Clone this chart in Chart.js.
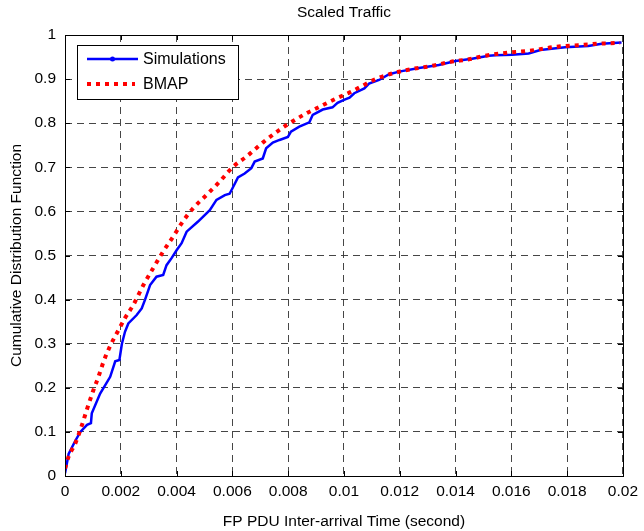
<!DOCTYPE html>
<html>
<head>
<meta charset="utf-8">
<script src="https://cdn.jsdelivr.net/npm/chart.js@4/dist/chart.umd.min.js"></script>
<style>
    body { margin: 0; background: #fff; }
    canvas { display: block; }
</style>
</head>
<body>
<canvas id="cdfChart" width="644" height="531"></canvas>
<script>
// Simulations (empirical CDF)
const simX = [0, 0.00013, 0.00037, 0.00055, 0.00079, 0.00093, 0.00096, 0.00126, 0.00162, 0.0018,
    0.00195, 0.00204, 0.00215, 0.00227, 0.00257, 0.00275, 0.00287, 0.00305, 0.00328, 0.00352,
    0.00364, 0.00382, 0.004, 0.00418, 0.00436, 0.00477, 0.00519, 0.00543, 0.00573, 0.0059,
    0.006, 0.0062, 0.00644, 0.00668, 0.0068, 0.00709, 0.00721, 0.00745, 0.00769, 0.00799,
    0.0081, 0.0084, 0.00876, 0.00888, 0.00924, 0.00959, 0.00977, 0.01, 0.0102, 0.01037,
    0.01073, 0.0109, 0.01126, 0.01162, 0.01198, 0.01269, 0.0134, 0.014, 0.01459, 0.01519,
    0.01543, 0.01602, 0.01662, 0.01704, 0.01793, 0.01876, 0.01924, 0.01995];
const simY = [0.006, 0.05, 0.08, 0.1, 0.116, 0.12, 0.142, 0.187, 0.225, 0.26,
    0.263, 0.3, 0.327, 0.346, 0.365, 0.38, 0.4, 0.433, 0.452, 0.456,
    0.478, 0.494, 0.512, 0.528, 0.554, 0.577, 0.603, 0.626, 0.637, 0.64,
    0.652, 0.677, 0.686, 0.698, 0.713, 0.72, 0.743, 0.756, 0.762, 0.769,
    0.781, 0.792, 0.802, 0.819, 0.831, 0.836, 0.846, 0.853, 0.858, 0.868,
    0.879, 0.89, 0.898, 0.911, 0.917, 0.925, 0.932, 0.941, 0.946, 0.953,
    0.954, 0.955, 0.958, 0.966, 0.972, 0.975, 0.98, 0.983];

// BMAP model
const bmapX = [0, 0.00013, 0.00037, 0.00061, 0.00078, 0.00102, 0.0012, 0.00138, 0.00162, 0.00191,
    0.00215, 0.00245, 0.00281, 0.00316, 0.00352, 0.00388, 0.00418, 0.00459, 0.00507, 0.00555,
    0.00602, 0.0065, 0.00709, 0.00769, 0.00805, 0.00864, 0.00912, 0.00972, 0.01025, 0.01055,
    0.01114, 0.01174, 0.01245, 0.01316, 0.01382, 0.01448, 0.01507, 0.0159, 0.01662, 0.01757,
    0.0184, 0.01935, 0.0199];
const bmapY = [0.017, 0.044, 0.074, 0.116, 0.15, 0.195, 0.225, 0.259, 0.295, 0.33,
    0.358, 0.388, 0.433, 0.471, 0.509, 0.543, 0.573, 0.607, 0.637, 0.668,
    0.701, 0.724, 0.756, 0.785, 0.8, 0.822, 0.837, 0.856, 0.871, 0.881,
    0.9, 0.913, 0.923, 0.93, 0.939, 0.945, 0.953, 0.96, 0.964, 0.973,
    0.977, 0.981, 0.982];

const xTicks = [0, 0.002, 0.004, 0.006, 0.008, 0.01, 0.012, 0.014, 0.016, 0.018, 0.02];
const xTickLabels = ["0", "0.002", "0.004", "0.006", "0.008", "0.01", "0.012", "0.014", "0.016", "0.018", "0.02"];
const yTicks = [0, 0.1, 0.2, 0.3, 0.4, 0.5, 0.6, 0.7, 0.8, 0.9, 1];
const yTickLabels = ["0", "0.1", "0.2", "0.3", "0.4", "0.5", "0.6", "0.7", "0.8", "0.9", "1"];

const FONT = "'Liberation Sans', Arial, sans-serif";

// 제목, 상자 테두리, 안쪽 눈금, 범례
const matlabFrame = {
    id: "matlabFrame",
    afterDraw(chart) {
        const ctx = chart.ctx;
        const area = chart.chartArea;
        const xs = chart.scales.x, ys = chart.scales.y;
        ctx.save();

        // box
        ctx.strokeStyle = "#000";
        ctx.lineWidth = 1;
        ctx.setLineDash([]);
        ctx.strokeRect(Math.round(area.left) + 0.5, Math.round(area.top) + 0.5,
            Math.round(area.right - area.left), Math.round(area.bottom - area.top));

        // inward ticks
        const tl = 5;
        ctx.beginPath();
        xTicks.forEach(v => {
            const px = Math.round(xs.getPixelForValue(v)) + 0.5;
            ctx.moveTo(px, area.bottom); ctx.lineTo(px, area.bottom - tl);
            ctx.moveTo(px, area.top); ctx.lineTo(px, area.top + tl);
        });
        yTicks.forEach(v => {
            const py = Math.round(ys.getPixelForValue(v)) + 0.5;
            ctx.moveTo(area.left, py); ctx.lineTo(area.left + tl, py);
            ctx.moveTo(area.right, py); ctx.lineTo(area.right - tl, py);
        });
        ctx.stroke();

        // title
        ctx.fillStyle = "#000";
        ctx.font = "15.5px " + FONT;
        ctx.textAlign = "center";
        ctx.textBaseline = "middle";
        ctx.fillText("Scaled Traffic", (area.left + area.right) / 2, 13);

        // legend
        const lx = 77.5, ly = 45.5, lw = 161, lh = 54;
        ctx.fillStyle = "#fff";
        ctx.fillRect(lx, ly, lw, lh);
        ctx.strokeStyle = "#000";
        ctx.lineWidth = 1;
        ctx.strokeRect(lx, ly, lw, lh);

        const ds = chart.data.datasets;
        const rows = [59, 84];
        ds.forEach((d, i) => {
            const y = rows[i];
            ctx.save();
            ctx.strokeStyle = d.borderColor;
            ctx.lineWidth = d.borderWidth;
            ctx.setLineDash(d.borderDash || []);
            ctx.beginPath();
            ctx.moveTo(87, y);
            ctx.lineTo(i === 0 ? 138 : 135, y);
            ctx.stroke();
            if (i === 0) {
                ctx.fillStyle = d.borderColor;
                ctx.beginPath();
                ctx.arc(112.5, y, 2.5, 0, Math.PI * 2);
                ctx.fill();
            }
            ctx.restore();
            ctx.fillStyle = "#000";
            ctx.font = "16px " + FONT;
            ctx.textAlign = "left";
            ctx.textBaseline = "middle";
            ctx.fillText(d.label, 143, y + 1);
        });
        ctx.restore();
    }
};

const gridOpts = {
    color: "rgba(50, 50, 50, 0.9)",
    lineWidth: 1,
    drawTicks: false
};

new Chart(document.getElementById("cdfChart"), {
    type: "line",
    data: {
        datasets: [
            {
                label: "Simulations",
                data: simX.map((x, i) => ({ x: x, y: simY[i] })),
                borderColor: "#0000ff",
                borderWidth: 2.5,
                pointRadius: 0,
                fill: false,
                tension: 0,
                order: 1
            },
            {
                label: "BMAP",
                data: bmapX.map((x, i) => ({ x: x, y: bmapY[i] })),
                borderColor: "#ff0000",
                borderWidth: 4,
                borderDash: [4, 5],
                borderCapStyle: "butt",
                pointRadius: 0,
                fill: false,
                cubicInterpolationMode: "monotone",
                order: 0
            }
        ]
    },
    plugins: [matlabFrame],
    options: {
        responsive: false,
        animation: false,
        layout: { padding: { left: 0, right: 18, top: 35, bottom: 0 } },
        plugins: {
            legend: { display: false },
            title: { display: false },
            tooltip: { enabled: false }
        },
        scales: {
            x: {
                type: "linear",
                min: 0,
                max: 0.02,
                afterBuildTicks: scale => { scale.ticks = xTicks.map(v => ({ value: v })); },
                afterFit: scale => { scale.height = 55; },
                grid: gridOpts,
                border: { display: false, dash: [7, 5] },
                ticks: {
                    autoSkip: false,
                    maxRotation: 0,
                    padding: 6,
                    color: "#000",
                    font: { family: FONT, size: 15.5 },
                    callback: (v, i) => xTickLabels[i]
                },
                title: {
                    display: true,
                    text: "FP PDU Inter-arrival Time (second)",
                    color: "#000",
                    font: { family: FONT, size: 15.5 },
                    padding: { top: 0, bottom: 0 }
                }
            },
            y: {
                type: "linear",
                min: 0,
                max: 1,
                afterBuildTicks: scale => { scale.ticks = yTicks.map(v => ({ value: v })); },
                afterFit: scale => { scale.width = 65; },
                grid: gridOpts,
                border: { display: false, dash: [7, 5] },
                ticks: {
                    autoSkip: false,
                    padding: 9,
                    color: "#000",
                    font: { family: FONT, size: 15.5 },
                    callback: (v, i) => yTickLabels[i]
                },
                title: {
                    display: true,
                    text: "Cumulative Distribution Function",
                    color: "#000",
                    font: { family: FONT, size: 15.5 },
                    padding: { top: 7, bottom: 0 }
                }
            }
        }
    }
});
</script>
</body>
</html>
